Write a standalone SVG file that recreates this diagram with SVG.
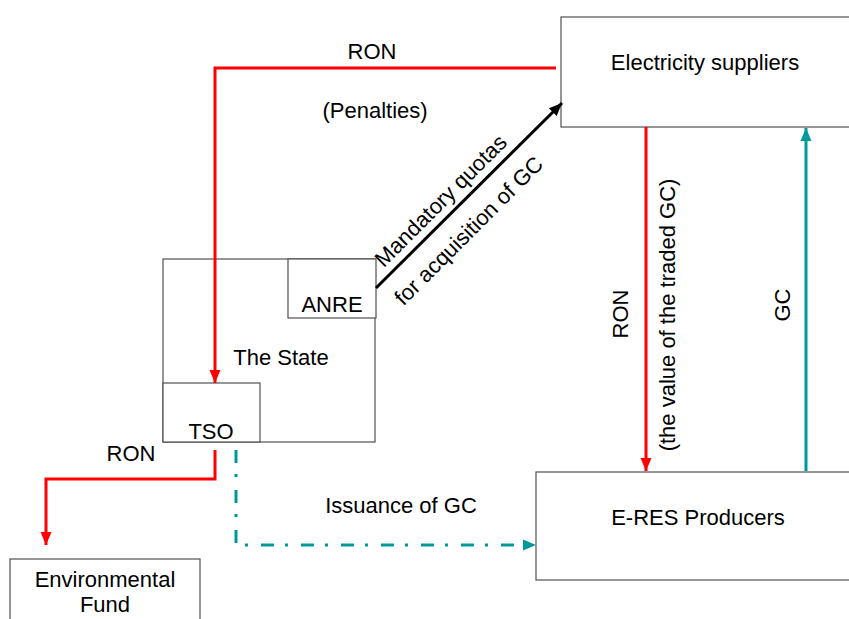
<svg xmlns="http://www.w3.org/2000/svg" width="849" height="619" viewBox="0 0 849 619">
<style>
.box{fill:#fff;stroke:#505050;stroke-width:1.2}
.t{font-family:"Liberation Sans",Arial,sans-serif;font-size:22px;fill:#000}
.red{fill:none;stroke:#ff0000;stroke-width:3}
.teal{fill:none;stroke:#009999;stroke-width:3}
.blk{fill:none;stroke:#000;stroke-width:3}
</style>
<defs>
<marker id="ar" markerUnits="userSpaceOnUse" markerWidth="14" markerHeight="14" viewBox="0 0 14 14" refX="13" refY="7" orient="auto"><path d="M0,1.5 L13,7 L0,12.5 Z" fill="#ff0000"/></marker>
<marker id="at" markerUnits="userSpaceOnUse" markerWidth="14" markerHeight="14" viewBox="0 0 14 14" refX="13" refY="7" orient="auto"><path d="M0,1.5 L13,7 L0,12.5 Z" fill="#009999"/></marker>
<marker id="ab" markerUnits="userSpaceOnUse" markerWidth="14" markerHeight="14" viewBox="0 0 14 14" refX="13" refY="7" orient="auto"><path d="M0,1.5 L13,7 L0,12.5 Z" fill="#000"/></marker>
</defs>
<g id="suppliers"><rect class="box" x="561" y="17" width="290" height="110"/><text class="t" x="705" y="70" text-anchor="middle">Electricity suppliers</text></g>
<g id="producers"><rect class="box" x="536" y="472" width="315" height="108"/><text class="t" x="698" y="525" text-anchor="middle">E-RES Producers</text></g>
<g id="state"><rect class="box" x="163" y="259" width="212" height="183"/><text class="t" x="281" y="365" text-anchor="middle">The State</text></g>
<g id="anre"><rect class="box" x="288" y="259" width="88" height="59"/><text class="t" x="332" y="312" text-anchor="middle">ANRE</text></g>
<g id="tso"><rect class="box" x="163" y="383" width="97" height="59"/><text class="t" x="211" y="439" text-anchor="middle">TSO</text></g>
<g id="fund"><rect class="box" x="10" y="559" width="190" height="70"/><text class="t" x="105" y="587" text-anchor="middle">Environmental</text><text class="t" x="105" y="612" text-anchor="middle">Fund</text></g>
<g id="connectors">
<path class="red" d="M556,68 H215 V383" marker-end="url(#ar)"/>
<path class="red" d="M215,450 V479 H46 V545" marker-end="url(#ar)"/>
<path class="red" d="M646,127 V471" marker-end="url(#ar)"/>
<path class="teal" d="M806,471 V128" marker-end="url(#at)"/>
<path class="teal" d="M236,450 V545 H536" stroke-dasharray="13,11,3,13" marker-end="url(#at)"/>
<path class="blk" d="M376,288 L562,103" marker-end="url(#ab)"/>
<text class="t" x="372" y="59" text-anchor="middle">RON</text>
<text class="t" x="375" y="118" text-anchor="middle">(Penalties)</text>
<text class="t" x="131" y="461" text-anchor="middle">RON</text>
<text class="t" x="401" y="513" text-anchor="middle">Issuance of GC</text>
<text class="t" transform="translate(628,314) rotate(-90)" text-anchor="middle">RON</text>
<text class="t" transform="translate(675,315) rotate(-90)" text-anchor="middle">(the value of the  traded GC)</text>
<text class="t" transform="translate(790,305) rotate(-90)" text-anchor="middle">GC</text>
<text class="t" transform="translate(446,206) rotate(-45)" text-anchor="middle">Mandatory quotas</text>
<text class="t" transform="translate(474,236) rotate(-45)" text-anchor="middle">for acquisition of GC</text>
</g>
</svg>
